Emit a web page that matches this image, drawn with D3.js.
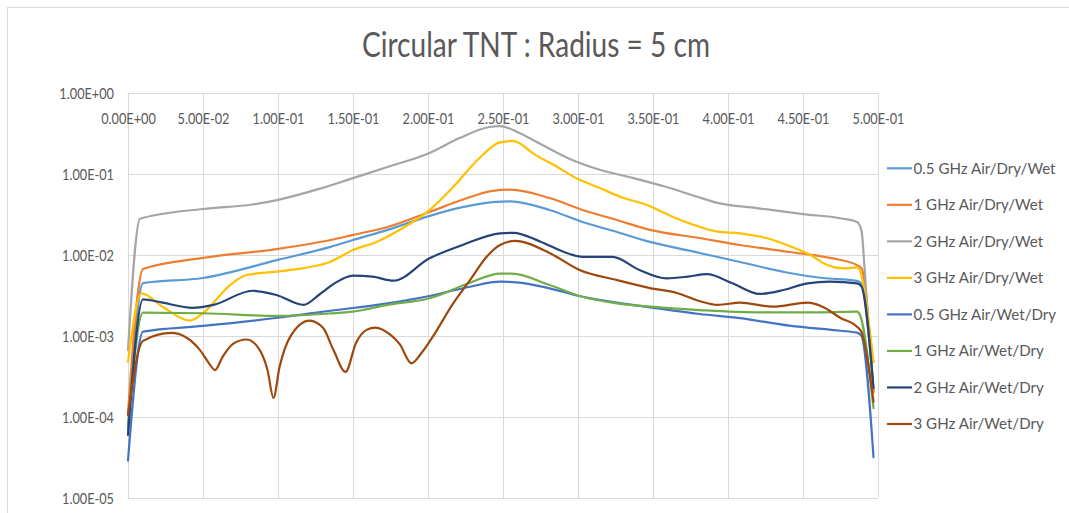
<!DOCTYPE html>
<html><head><meta charset="utf-8">
<script src="https://cdn.jsdelivr.net/npm/d3@7"></script>
<style>
body{margin:0;background:#fff;}
text{font-family:Lato,"Open Sans","Noto Sans",sans-serif;fill:#595959;}
</style>
</head><body>
<svg id="chart" width="1069" height="513"></svg>
<script>
const chartTitle = "Circular TNT : Radius = 5 cm";
const xTicks = [0, 0.05, 0.1, 0.15, 0.2, 0.25, 0.3, 0.35, 0.4, 0.45, 0.5];
const yTicks = [1, 1e-1, 1e-2, 1e-3, 1e-4, 1e-5];
const seriesNames = ["0.5 GHz Air/Dry/Wet","1 GHz Air/Dry/Wet","2 GHz Air/Dry/Wet","3 GHz Air/Dry/Wet",
                     "0.5 GHz Air/Wet/Dry","1 GHz Air/Wet/Dry","2 GHz Air/Wet/Dry","3 GHz Air/Wet/Dry"];
const seriesColors = ["#5B9BD5","#ED7D31","#A5A5A5","#FFC000","#4472C4","#70AD47","#264478","#9E480E"];

const s05ADW = [[0,6.9e-5],[0.01,4.5e-3],[0.05,5.2e-3],[0.1,8.7e-3],[0.135,1.26e-2],[0.15,1.53e-2],[0.173,2.04e-2],[0.2,3.0e-2],[0.223,3.9e-2],[0.243,4.5e-2],[0.255,4.6e-2],[0.281,3.6e-2],[0.303,2.56e-2],[0.326,1.92e-2],[0.348,1.45e-2],[0.381,1.06e-2],[0.408,8.2e-3],[0.441,6.0e-3],[0.463,5.2e-3],[0.486,4.8e-3],[0.489,4.4e-3],[0.497,2.1e-4]];
const s1ADW = [[0,1.12e-4],[0.01,6.7e-3],[0.05,9.2e-3],[0.1,1.19e-2],[0.135,1.53e-2],[0.15,1.77e-2],[0.173,2.22e-2],[0.201,3.4e-2],[0.223,4.8e-2],[0.243,6.2e-2],[0.255,6.4e-2],[0.281,5.05e-2],[0.303,3.6e-2],[0.326,2.7e-2],[0.348,2.04e-2],[0.381,1.62e-2],[0.408,1.33e-2],[0.441,1.09e-2],[0.468,9.2e-3],[0.486,7.5e-3],[0.489,6.9e-3],[0.497,2.0e-4]];
const s2ADW = [[0,6.7e-4],[0.008,2.8e-2],[0.05,3.7e-2],[0.083,4.2e-2],[0.1,4.8e-2],[0.128,6.6e-2],[0.15,8.9e-2],[0.173,0.122],[0.201,0.182],[0.221,0.278],[0.241,0.38],[0.248,0.39],[0.261,0.32],[0.27,0.263],[0.293,0.158],[0.315,0.112],[0.337,8.9e-2],[0.359,6.9e-2],[0.38,5.2e-2],[0.393,4.4e-2],[0.419,3.8e-2],[0.45,3.2e-2],[0.477,2.8e-2],[0.486,2.56e-2],[0.489,2.0e-2],[0.491,7.1e-3],[0.495,6.7e-4],[0.497,4.8e-4]];
const s3ADW = [[0,4.8e-4],[0.009,3.35e-3],[0.023,2.3e-3],[0.041,1.55e-3],[0.05,1.91e-3],[0.068,4.26e-3],[0.079,5.66e-3],[0.099,6.22e-3],[0.117,6.9e-3],[0.135,8.27e-3],[0.15,1.15e-2],[0.166,1.46e-2],[0.183,2.14e-2],[0.201,3.59e-2],[0.217,6.97e-2],[0.233,0.149],[0.248,0.246],[0.257,0.256],[0.261,0.239],[0.27,0.18],[0.286,0.123],[0.299,8.85e-2],[0.315,6.65e-2],[0.328,5.25e-2],[0.346,4.14e-2],[0.363,2.97e-2],[0.381,2.23e-2],[0.393,1.94e-2],[0.408,1.85e-2],[0.426,1.61e-2],[0.441,1.29e-2],[0.455,1.0e-2],[0.466,7.54e-3],[0.477,6.85e-3],[0.486,7.05e-3],[0.488,6.53e-3],[0.49,4.51e-3],[0.497,4.8e-4]];
const s05AWD = [[0,2.9e-5],[0.01,1.13e-3],[0.05,1.33e-3],[0.1,1.68e-3],[0.135,2.05e-3],[0.173,2.53e-3],[0.201,3.12e-3],[0.228,4.06e-3],[0.248,4.68e-3],[0.259,4.6e-3],[0.281,3.88e-3],[0.303,3.05e-3],[0.326,2.58e-3],[0.348,2.26e-3],[0.381,1.87e-3],[0.408,1.66e-3],[0.441,1.34e-3],[0.475,1.16e-3],[0.486,1.1e-3],[0.489,1.0e-3],[0.497,3.2e-5]];
const s1AWD = [[0,8e-5],[0.01,1.94e-3],[0.05,1.91e-3],[0.1,1.77e-3],[0.135,1.9e-3],[0.15,2.0e-3],[0.173,2.42e-3],[0.201,2.92e-3],[0.228,4.55e-3],[0.248,5.9e-3],[0.256,5.9e-3],[0.281,4.26e-3],[0.303,3.05e-3],[0.326,2.53e-3],[0.348,2.3e-3],[0.381,2.09e-3],[0.419,1.96e-3],[0.463,1.96e-3],[0.486,2.0e-3],[0.488,1.82e-3],[0.497,1.29e-4]];
const s2AWD = [[0,6.0e-5],[0.01,2.84e-3],[0.023,2.58e-3],[0.043,2.23e-3],[0.057,2.42e-3],[0.083,3.62e-3],[0.099,3.21e-3],[0.117,2.42e-3],[0.128,3.3e-3],[0.138,4.5e-3],[0.15,5.55e-3],[0.163,5.4e-3],[0.177,4.82e-3],[0.201,9.1e-3],[0.223,1.33e-2],[0.248,1.85e-2],[0.257,1.88e-2],[0.275,1.46e-2],[0.293,1.05e-2],[0.303,9.5e-3],[0.323,9.5e-3],[0.341,6.53e-3],[0.359,5.15e-3],[0.373,5.4e-3],[0.386,5.82e-3],[0.403,4.47e-3],[0.421,3.31e-3],[0.437,3.7e-3],[0.453,4.47e-3],[0.468,4.68e-3],[0.486,4.47e-3],[0.489,4.1e-3],[0.497,2.28e-4]];
const s3AWD = [[0,1.06e-4],[0.01,8.7e-4],[0.029,1.09e-3],[0.048,6.7e-4],[0.054,4.6e-4],[0.058,3.8e-4],[0.063,5.5e-4],[0.07,8.0e-4],[0.079,9.05e-4],[0.087,7.1e-4],[0.093,3.8e-4],[0.097,1.72e-4],[0.101,4.1e-4],[0.108,9.7e-4],[0.121,1.55e-3],[0.13,1.26e-3],[0.137,6.7e-4],[0.145,3.6e-4],[0.152,8.2e-4],[0.159,1.19e-3],[0.165,1.27e-3],[0.175,1.03e-3],[0.181,8.0e-4],[0.189,4.6e-4],[0.196,6.3e-4],[0.203,9.7e-4],[0.217,2.56e-3],[0.228,4.9e-3],[0.239,9.45e-3],[0.248,1.33e-2],[0.258,1.49e-2],[0.281,1.06e-2],[0.301,6.53e-3],[0.326,4.9e-3],[0.348,3.9e-3],[0.366,3.4e-3],[0.381,2.7e-3],[0.393,2.42e-3],[0.408,2.58e-3],[0.43,2.3e-3],[0.453,2.58e-3],[0.463,2.3e-3],[0.475,1.67e-3],[0.486,1.3e-3],[0.489,1.12e-3],[0.497,1.55e-4]];

const seriesData = [s05ADW, s1ADW, s2ADW, s3ADW, s05AWD, s1AWD, s2AWD, s3AWD];

const svg = d3.select("#chart");
const W = 1069, H = 513;
const plot = {left:128, right:878, top:93, bottom:498};

// chart frame
svg.append("rect").attr("x",7.5).attr("y",7.5).attr("width",W+20).attr("height",H+20)
  .attr("fill","#fff").attr("stroke","#d9d9d9").attr("stroke-width",1);

const x = d3.scaleLinear().domain([0,0.5]).range([plot.left, plot.right]);
const y = d3.scaleLog().domain([1e-5,1]).range([plot.bottom, plot.top]);

function sci(v){
  if (v === 0) return "0.00E+00";
  let e = Math.floor(Math.log10(Math.abs(v)) + 1e-9);
  let m = v / Math.pow(10, e);
  let ms = m.toFixed(2);
  if (ms === "10.00") { e += 1; ms = "1.00"; }
  return ms + "E" + (e < 0 ? "-" : "+") + String(Math.abs(e)).padStart(2, "0");
}

const meas = svg.append("text").attr("x",-1000).attr("y",-1000);
function measure(str, size){ meas.attr("font-size", size).text(str); return meas.node().getComputedTextLength(); }
function fit(sel, ratio){
  sel.each(function(){
    const w = this.getComputedTextLength();
    d3.select(this).attr("textLength", w*ratio).attr("lengthAdjust","spacingAndGlyphs");
  });
}

// gridlines
const gx = svg.append("g").attr("transform",`translate(0,${plot.bottom})`)
  .call(d3.axisBottom(x).tickValues(xTicks).tickSize(-(plot.bottom-plot.top)).tickFormat(""));
gx.select(".domain").remove();
gx.selectAll("line").attr("stroke","#d9d9d9").attr("stroke-width",1);
const gy = svg.append("g").attr("transform",`translate(${plot.left},0)`)
  .call(d3.axisLeft(y).tickValues(yTicks).tickSize(-(plot.right-plot.left)).tickFormat(""));
gy.select(".domain").remove();
gy.selectAll("line").attr("stroke","#d9d9d9").attr("stroke-width",1);

// axis labels
const tickSize = 15;
const tickRatio = 52 / measure("1.00E-01", tickSize);
const ax = svg.append("g").attr("transform",`translate(0,${plot.top})`)
  .call(d3.axisBottom(x).tickValues(xTicks).tickSize(0).tickPadding(20).tickFormat(sci));
ax.select(".domain").remove();
ax.selectAll("text").attr("font-size",tickSize).attr("font-family",null).attr("fill","#595959");
fit(ax.selectAll("text"), tickRatio);

const ay = svg.append("g").attr("transform",`translate(${plot.left},0)`)
  .call(d3.axisLeft(y).tickValues(yTicks).tickSize(0).tickPadding(14).tickFormat(sci));
ay.select(".domain").remove();
ay.selectAll("text").attr("font-size",tickSize).attr("font-family",null).attr("fill","#595959").attr("dy","0.37em");
fit(ay.selectAll("text"), tickRatio);

// lines
const line = d3.line().x(d => x(d[0])).y(d => y(d[1])).curve(d3.curveMonotoneX);
seriesData.forEach((s, i) => {
  svg.append("path").datum(s).attr("d", line)
    .attr("fill","none").attr("stroke", seriesColors[i]).attr("stroke-width",2.2)
    .attr("stroke-linejoin","round").attr("stroke-linecap","round");
});

// title
const titleSize = 34;
const tt = svg.append("text").attr("x",536).attr("y",57).attr("text-anchor","middle")
  .attr("font-size",titleSize).text(chartTitle);
fit(tt, 348 / measure(chartTitle, titleSize));

// legend
const legSize = 15.5;
const legRatio = 142 / measure(seriesNames[0], legSize);
const legY = d3.scaleLinear().domain([0,7]).range([168.3, 424]);
const leg = svg.append("g");
seriesNames.forEach((n, i) => {
  const yy = legY(i);
  leg.append("line").attr("x1",887).attr("x2",912).attr("y1",yy).attr("y2",yy)
    .attr("stroke",seriesColors[i]).attr("stroke-width",2.2);
  const t = leg.append("text").attr("x",913.5).attr("y",yy+5.3).attr("font-size",legSize).text(n);
  fit(t, legRatio);
});
meas.remove();
</script>
</body></html>
